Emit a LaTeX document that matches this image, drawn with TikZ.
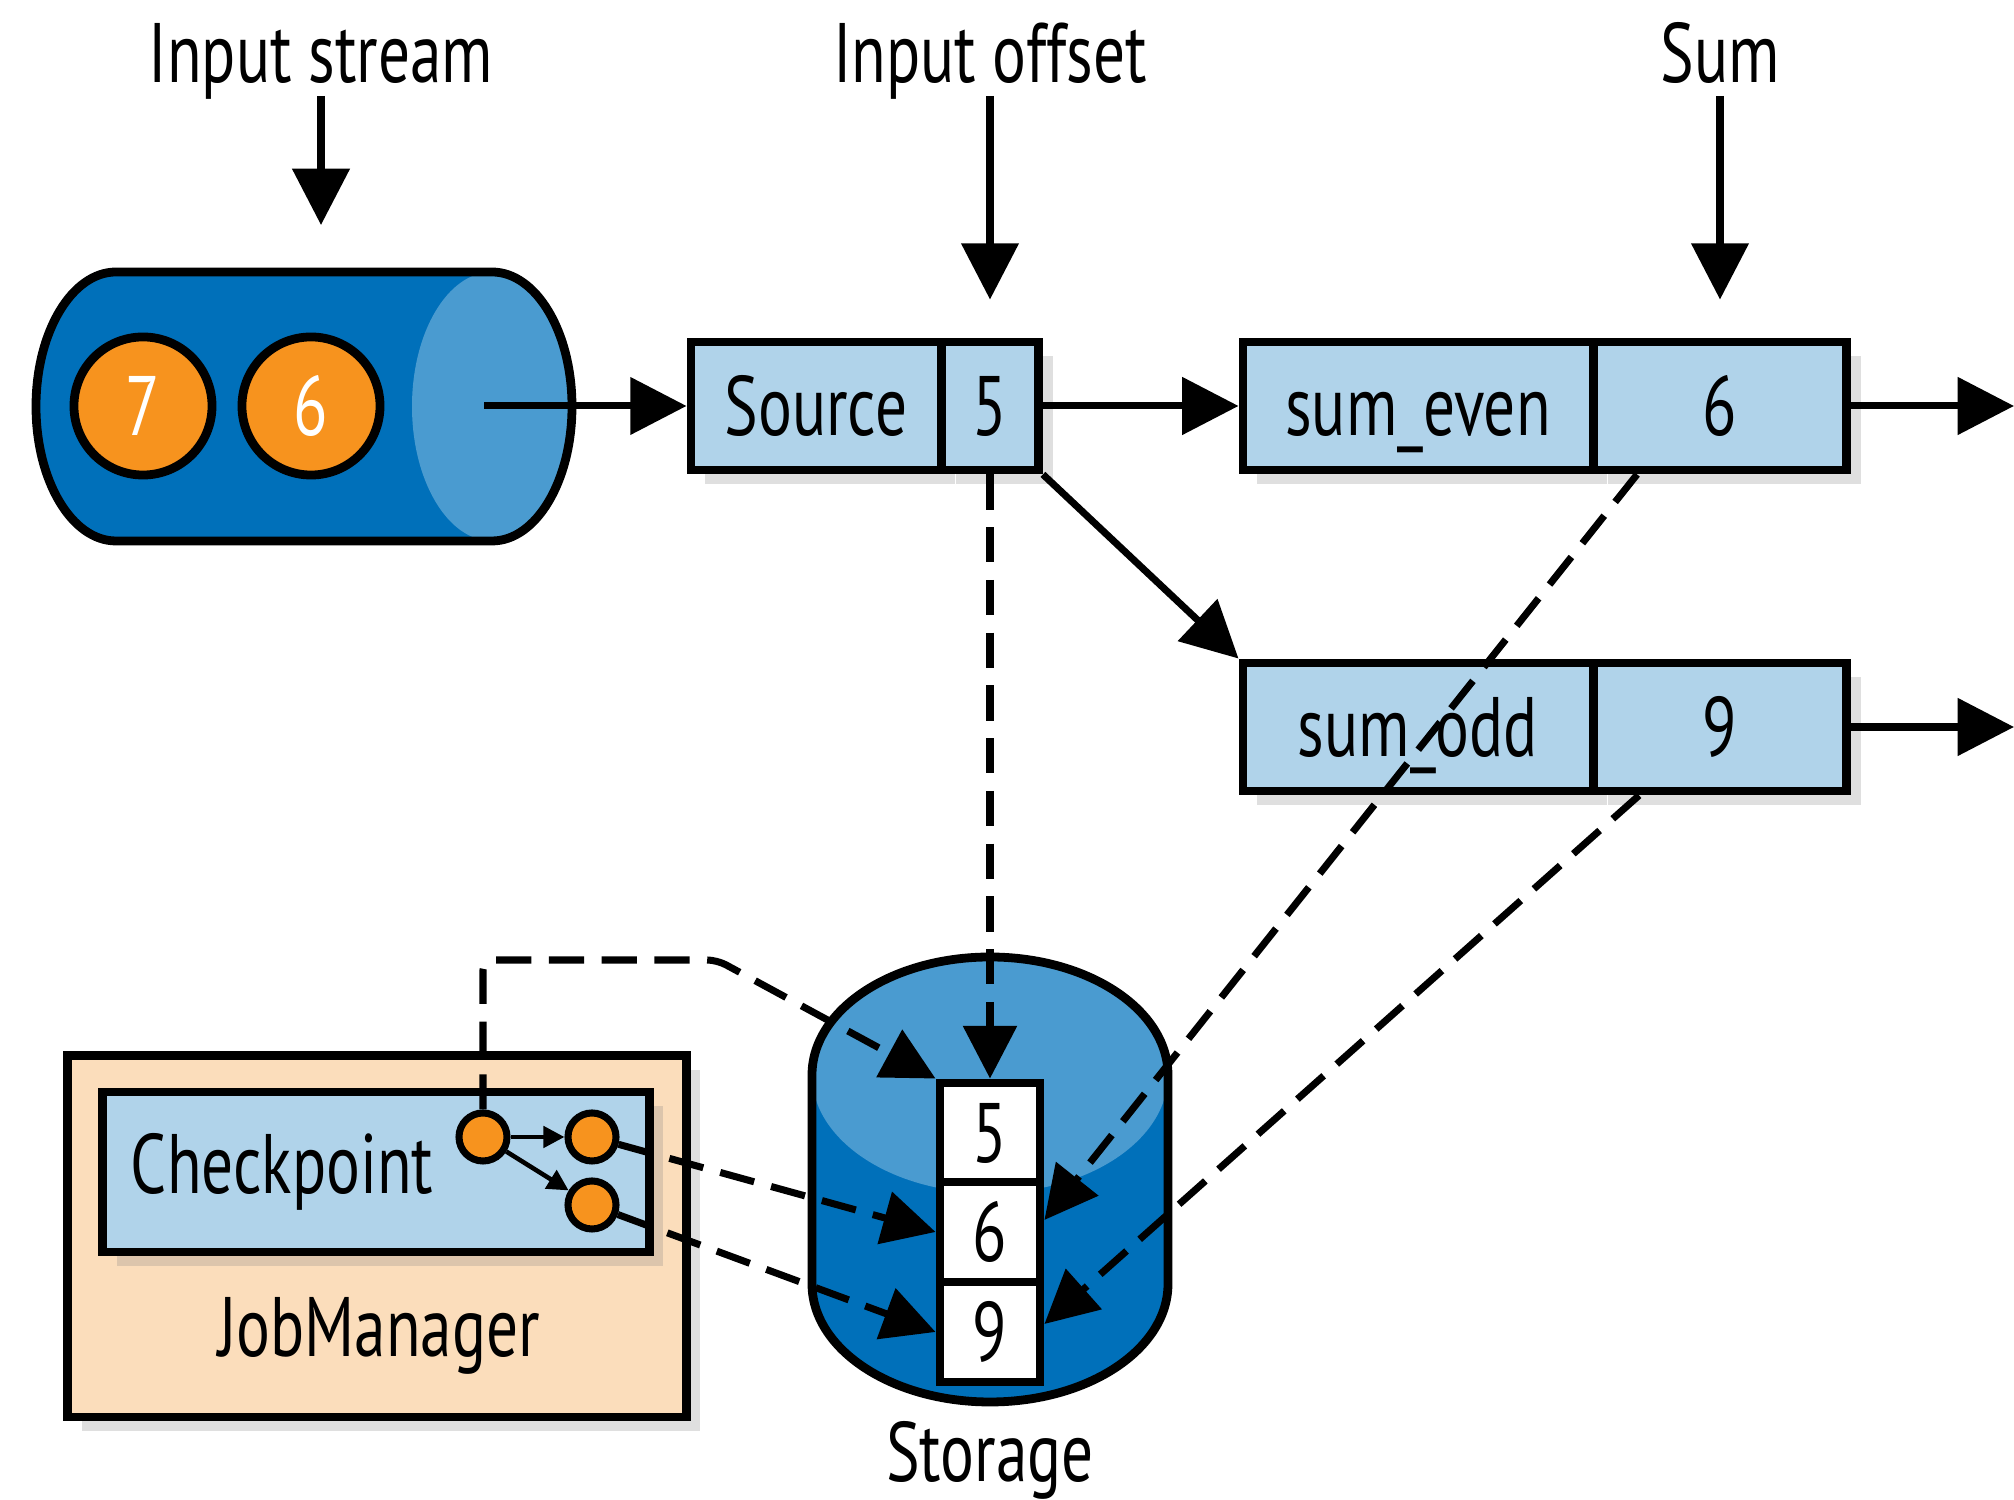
\documentclass[tikz,border=0pt]{standalone}
\usepackage{fontspec}
\setmainfont[FakeStretch=0.75]{PT Sans}
\usetikzlibrary{arrows.meta,shadows}
\definecolor{drumBlue}{RGB}{0,112,186}
\definecolor{drumTop}{RGB}{74,155,208}
\definecolor{cellBlue}{RGB}{176,211,234}
\definecolor{tokenOrange}{RGB}{247,147,30}
\definecolor{managerTan}{RGB}{251,221,187}
\tikzset{
    opBox/.style={draw, line width=2.5pt, fill=cellBlue, minimum height=1.28cm, inner sep=0pt,
        text height=17pt, text depth=0pt,
        drop shadow={shadow xshift=4pt, shadow yshift=-4pt, opacity=0.25}},
    storeCell/.style={draw, line width=2.5pt, fill=white, minimum width=1cm, minimum height=1cm, inner sep=0pt,
        text height=17pt, text depth=0pt},
    token/.style={circle, draw, line width=2.5pt, fill=tokenOrange, text=white, minimum size=1.38cm, inner sep=0pt},
    miniToken/.style={circle, draw, line width=2pt, fill=tokenOrange, minimum size=0.48cm, inner sep=0pt},
    flow/.style={line width=2pt, -{Triangle[length=16pt,width=16pt]}},
    saveFlow/.style={line width=2pt, dash pattern=on 10pt off 5pt, -{Triangle[length=15pt,width=15pt]}},
    tinyFlow/.style={line width=1.3pt, -{Triangle[length=6pt,width=6pt]}}
}
\begin{document}
\begin{tikzpicture}[x=0.01cm, y=0.01cm, font=\fontsize{24}{28}\selectfont]
        \useasboundingbox (0,0) rectangle (2014,1500);
        \fill[drumBlue] (116,1228) -- (492,1228) arc (90:-90:80 and 134.5) -- (116,959) arc (270:90:80 and 134.5) -- cycle;
        \fill[drumTop] (492,1093.5) ellipse (80 and 134.5);
        \draw[line width=2.5pt] (116,1228) -- (492,1228) arc (90:-90:80 and 134.5) -- (116,959) arc (270:90:80 and 134.5) -- cycle;
        \node[token] (seven) at (143,1094) {7};
        \node[token] (six) at (311,1094) {6};
        \coordinate (streamOut) at (484,1094);
        \coordinate (streamIn) at (321,1275);
        \coordinate (evenOut) at (2014,1094);
        \coordinate (oddOut) at (2014,773);

        \node[anchor=base, inner sep=2pt] (streamLbl) at (321,1417) {Input stream};
        \node[anchor=base, inner sep=2pt] (offsetLbl) at (990,1417) {Input offset};
        \node[anchor=base, inner sep=2pt] (sumLbl) at (1720,1417) {Sum};

        \node[opBox, minimum width=2.5cm] (source) at (816,1094) {Source};
        \node[opBox, minimum width=0.97cm] (sourceVal) at (990,1094) {5};
        \node[opBox, minimum width=3.5cm] (sumEven) at (1418,1094) {sum\_even};
        \node[opBox, minimum width=2.53cm] (sumEvenVal) at (1720,1094) {6};
        \node[opBox, minimum width=3.5cm] (sumOdd) at (1418,773) {sum\_odd};
        \node[opBox, minimum width=2.53cm] (sumOddVal) at (1720,773) {9};

        \draw[flow] ([yshift=-0.13cm]streamLbl.base) -- (streamIn);
        \draw[flow] ([yshift=-0.13cm]offsetLbl.base) -- ([yshift=0.38cm]sourceVal.north);
        \draw[flow] ([yshift=-0.13cm]sumLbl.base) -- ([yshift=0.38cm]sumEvenVal.north);
        \draw[flow] (streamOut) -- (source);
        \draw[flow] (sourceVal) -- (sumEven);
        \draw[flow] (sourceVal.south east) -- (sumOdd.north west);
        \draw[flow] (sumEvenVal) -- (evenOut);
        \draw[flow] (sumOddVal) -- (oddOut);

        \fill[drumBlue] (812,425) -- (812,216) arc (180:360:178 and 118) -- (1168,425) -- cycle;
        \fill[drumTop] (990,425) ellipse (178 and 118);
        \draw[line width=2.5pt] (812,216) -- (812,425) arc (180:0:178 and 118) -- (1168,216) arc (0:-180:178 and 118) -- cycle;
        \node[storeCell] (cellFive) at (990,367) {5};
        \node[storeCell] (cellSix) at (990,268) {6};
        \node[storeCell] (cellNine) at (990,168) {9};
        \node (storageLbl) at (990,40) {Storage};

        \node[draw, line width=2.5pt, fill=managerTan, minimum width=6.18cm, minimum height=3.61cm,
            drop shadow={shadow xshift=4pt, shadow yshift=-4pt, opacity=0.25}] (jobManager) at (377,263.5) {};
        \node[draw, line width=2.5pt, fill=cellBlue, text width=4.9cm, inner xsep=0.28cm, minimum height=1.6cm, align=left,
            drop shadow={shadow xshift=4pt, shadow yshift=-4pt, opacity=0.25}] (checkpoint) at (376,328) {Checkpoint};
        \node (managerLbl) at (379,164) {JobManager};
        \node[miniToken] (ckptA) at (483,363) {};
        \node[miniToken] (ckptB) at (592,363) {};
        \node[miniToken] (ckptC) at (592,295) {};
        \draw[tinyFlow] (ckptA) -- (ckptB);
        \draw[tinyFlow] (ckptA) -- (ckptC);
        \coordinate (saveBend) at (717,540);

        \draw[saveFlow, rounded corners=0.1cm] (ckptA) -- (ckptA |- saveBend) -- (saveBend) -- (cellFive.north west);
        \draw[saveFlow] (ckptB) -- (cellSix.west);
        \draw[saveFlow] (ckptC) -- (cellNine.west);
        \draw[saveFlow] (sourceVal) -- (cellFive);
        \draw[saveFlow] ([xshift=0.48cm]sumEvenVal.south west) -- ([yshift=0.12cm]cellSix.east);
        \draw[saveFlow] ([xshift=0.5cm]sumOddVal.south west) -- ([yshift=0.08cm]cellNine.east);
\end{tikzpicture}
\end{document}
